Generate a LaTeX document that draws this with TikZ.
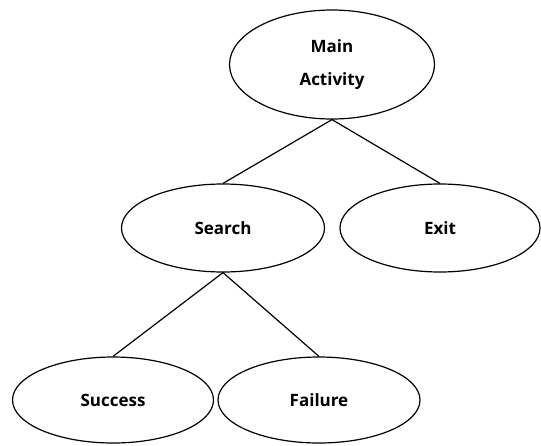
\documentclass[tikz,border=0pt]{standalone}
\usepackage{fontspec}
\setmainfont{Open Sans}
\usepackage{tikz}
\usetikzlibrary{shapes.geometric}
\tikzset{e/.style={draw, ellipse, line width=1.2pt, inner sep=0pt, align=center, font=\fontsize{17}{33}\selectfont\bfseries}}
\tikzset{c/.style={line width=1.2pt}}

\begin{document}
\begin{tikzpicture}[x=1pt, y=-1pt]
            \useasboundingbox (0,0) rectangle (541,445);
            \node[e, minimum width=205pt, minimum height=109pt] (main) at (332,64.5) {Main\\Activity};
            \node[e, minimum width=203pt, minimum height=88pt] (search) at (223,228) {Search};
            \node[e, minimum width=200pt, minimum height=88pt] (exitn) at (440,228) {Exit};
            \node[e, minimum width=201pt, minimum height=86pt] (success) at (113,400) {Success};
            \node[e, minimum width=202pt, minimum height=86pt] (failure) at (319,400) {Failure};
            \draw[c] (main.south) -- (search.north);
            \draw[c] (main.south) -- (exitn.north);
            \draw[c] (search.south) -- (success.north);
            \draw[c] (search.south) -- (failure.north);
          \end{tikzpicture}
\end{document}
